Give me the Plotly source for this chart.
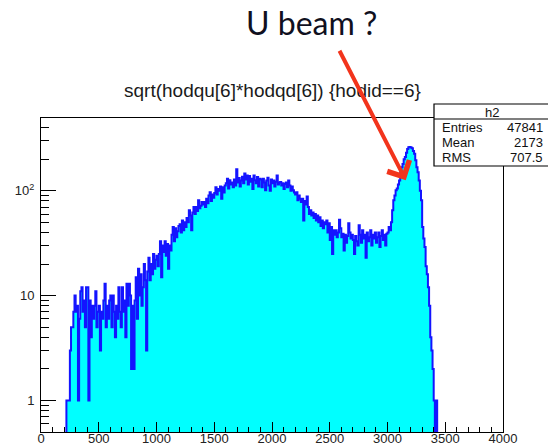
import numpy as np
import plotly.graph_objects as go

# Histogram h2: sqrt(hodqu[6]*hodqd[6]) for hodid==6, fixed-width bins
bin_start = 220
bin_width = 10
counts = [
    1, 1, 1, 3, 5, 5, 7, 10,                           # 220-290
    7, 8, 1, 6, 11, 12, 7, 9, 5, 12,                   # 300
    12, 1, 9, 4, 8, 6, 8, 11, 5, 7,                    # 400
    8, 3, 7, 6, 9, 13, 5, 8, 6, 9,                     # 500
    10, 5, 10, 7, 4, 8, 6, 12, 7, 5,                   # 600
    12, 7, 9, 4, 13, 8, 13, 10, 2, 8,                  # 700
    2, 9, 15, 6, 18, 10, 16, 8, 12, 20,                # 800
    14, 3, 17, 23, 14, 20, 16, 25, 18, 22,             # 900
    24, 19, 25, 33, 15, 30, 26, 33, 24, 31,            # 1000
    18, 30, 27, 38, 45, 33, 44, 36, 41, 46,            # 1100
    48, 40, 52, 42, 50, 45, 55, 50, 65, 58,            # 1200
    42, 62, 70, 60, 70, 64, 81, 68, 72, 78,            # 1300
    74, 78, 70, 84, 76, 90, 97, 80, 92, 86,            # 1400
    95, 108, 92, 104, 100, 110, 84, 108, 96, 112,      # 1500
    118, 130, 105, 126, 115, 120, 108, 128, 112, 160,  # 1600
    120, 132, 110, 125, 136, 118, 146, 128, 140, 115,  # 1700
    138, 122, 130, 104, 140, 126, 118, 135, 110, 130,  # 1800
    128, 108, 130, 120, 101, 125, 133, 112, 100, 128,  # 1900
    118, 125, 110, 122, 140, 115, 120, 121, 112, 118,  # 2000
    104, 116, 120, 108, 125, 112, 100, 110, 101, 96,   # 2100
    92, 97, 81, 90, 84, 78, 84, 52, 80, 74,            # 2200
    88, 70, 60, 65, 58, 62, 55, 60, 52, 58,            # 2300
    50, 56, 46, 52, 44, 50, 48, 52, 40, 49,            # 2400
    34, 45, 25, 42, 38, 42, 36, 40, 53, 44,            # 2500
    36, 39, 27, 38, 32, 37, 49, 40, 35, 38,            # 2600
    34, 25, 37, 33, 30, 47, 38, 32, 42, 35,            # 2700
    38, 23, 40, 33, 36, 42, 30, 38, 35, 40,            # 2800
    32, 36, 40, 29, 37, 42, 34, 38, 30, 39,            # 2900
    40, 45, 42, 50, 65, 81, 90, 101, 105, 115,         # 3000
    125, 150, 168, 180, 200, 210, 230, 250, 260, 262,  # 3100
    258, 255, 240, 226, 195, 168, 150, 125, 100, 81,   # 3200
    45, 35, 29, 19, 16, 12, 8, 4, 3, 2,                # 3300
    1, 0, 1,                                           # 3400
]

# Statistics box contents
hist_name = "h2"
stat_labels = ["Entries", "Mean", "RMS"]
stat_values = ["47841", "2173", "707.5"]

title_text = "sqrt(hodqu[6]*hodqd[6]) {hodid==6}"
callout_text = "U beam ?"

x_ticks = [0, 500, 1000, 1500, 2000, 2500, 3000, 3500, 4000]
y_ticks = [1, 10, 100]
y_ticktext = ["1", "10", "10<sup>2</sup>"]
y_minor = [0.6, 0.7, 0.8, 0.9, 2, 3, 4, 5, 6, 7, 8, 9,
           20, 30, 40, 50, 60, 70, 80, 90, 200, 300, 400]

# Build the step outline; empty bins and the closing edges drop below the
# visible log range so the outline falls to the axis like a filled histogram.
floor = 0.05
c = np.array(counts, dtype=float)
edges = bin_start + bin_width * np.arange(len(c) + 1)
vals = np.where(c > 0, c, floor)
xs = np.concatenate([[edges[0]], edges])
ys = np.concatenate([[floor], vals, [floor]])

fig = go.Figure()
fig.add_trace(go.Scatter(
    x=xs, y=ys, mode="lines",
    line=dict(shape="hv", color="#1414FF", width=2, simplify=False),
    fill="tozeroy", fillcolor="#00FFFF",
    hoverinfo="skip",
))

W, H = 548, 446
ML, MR, MT, MB = 41, 45, 118, 14
PW, PH = W - ML - MR, H - MT - MB


def px(x):
    return (x - ML) / PW


def py(y):
    return (H - MB - y) / PH


axis_font = dict(family="Liberation Sans, Arial, sans-serif", size=13, color="#222")

fig.update_layout(
    width=W, height=H,
    margin=dict(l=ML, r=MR, t=MT, b=MB, autoexpand=False),
    paper_bgcolor="white", plot_bgcolor="white",
    showlegend=False,
)
fig.update_xaxes(
    range=[0, 4000], tickvals=x_ticks, automargin=False,
    ticks="inside", ticklen=10, tickwidth=1, tickcolor="black",
    ticklabelstandoff=-6,
    minor=dict(tick0=0, dtick=100, ticks="inside", ticklen=5,
               tickwidth=1, tickcolor="black", showgrid=False),
    showline=True, linecolor="black", linewidth=1, mirror=True,
    showgrid=False, zeroline=False, tickfont=axis_font,
)
fig.update_yaxes(
    type="log", range=[np.log10(0.5), 2.694], automargin=False,
    tickvals=y_ticks, ticktext=y_ticktext, ticklabelstandoff=3,
    ticks="inside", ticklen=15, tickwidth=1, tickcolor="black",
    minor=dict(tickvals=y_minor, ticks="inside", ticklen=8,
               tickwidth=1, tickcolor="black", showgrid=False),
    showline=True, linecolor="black", linewidth=1, mirror=True,
    showgrid=False, zeroline=False, tickfont=axis_font,
)

annotations = [
    dict(text=title_text, x=px(272), y=py(90), xref="paper", yref="paper",
         showarrow=False, xanchor="center", yanchor="middle",
         font=dict(family="Liberation Sans, Arial, sans-serif", size=19, color="#1a1a1a")),
    dict(text=callout_text, x=px(311), y=py(23), xref="paper", yref="paper",
         showarrow=False, xanchor="center", yanchor="middle",
         font=dict(family="Lato, Open Sans, sans-serif", size=32, color="#10101e")),
    # red callout arrow onto the peak
    dict(text="", x=3158, y=np.log10(126), xref="x", yref="y",
         ax=-67, ay=-131, axref="pixel", ayref="pixel",
         showarrow=True, arrowhead=4, arrowsize=1.2, arrowwidth=4,
         arrowcolor="#F2341C"),
    dict(text=hist_name, x=px(492), y=py(112), xref="paper", yref="paper",
         showarrow=False, xanchor="center", yanchor="middle",
         font=dict(family="Liberation Sans, Arial, sans-serif", size=13, color="#111")),
]
row_y = [127.5, 142.5, 157.5]
for lab, val, ry in zip(stat_labels, stat_values, row_y):
    annotations.append(dict(text=lab, x=px(440), y=py(ry), xref="paper", yref="paper",
                            showarrow=False, xanchor="left", yanchor="middle",
                            font=dict(family="Liberation Sans, Arial, sans-serif", size=13, color="#111")))
    annotations.append(dict(text=val, x=px(545), y=py(ry), xref="paper", yref="paper",
                            showarrow=False, xanchor="right", yanchor="middle",
                            font=dict(family="Liberation Sans, Arial, sans-serif", size=13, color="#111")))
fig.update_layout(annotations=annotations)

# Statistics box outline with its header row
fig.update_layout(shapes=[
    dict(type="rect", xref="paper", yref="paper", layer="above",
         x0=px(434), x1=px(552), y0=py(166), y1=py(104),
         line=dict(color="black", width=1.2), fillcolor="white"),
    dict(type="line", xref="paper", yref="paper", layer="above",
         x0=px(434), x1=px(552), y0=py(119), y1=py(119),
         line=dict(color="black", width=1.2)),
])

fig.write_html("out.html")
